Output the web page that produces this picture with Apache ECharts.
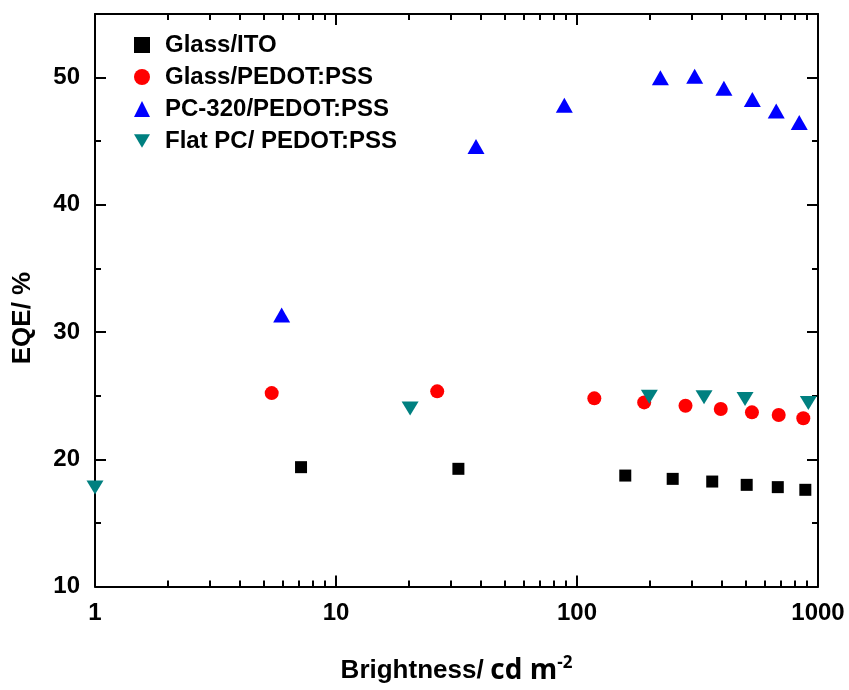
<!DOCTYPE html>
<html>
<head>
<meta charset="utf-8">
<script src="https://cdn.jsdelivr.net/npm/echarts@6/dist/echarts.min.js"></script>
<style>html,body{margin:0;padding:0;background:#fff}#c{width:849px;height:690px}</style>
</head>
<body>
<div id="c"></div>
<script>
// ---- data ----
const seriesNames = ['Glass/ITO', 'Glass/PEDOT:PSS', 'PC-320/PEDOT:PSS', 'Flat PC/ PEDOT:PSS'];
const glassITO = [[7.16,19.38],[32.2,19.25],[158.6,18.72],[249.5,18.46],[364,18.25],[506,17.99],[681,17.81],[886,17.6]];
const glassPEDOT = [[5.41,25.2],[26.3,25.34],[118,24.79],[190,24.47],[282,24.21],[395,23.95],[532,23.69],[687,23.48],[869,23.22]];
const pc320PEDOT = [[5.95,31.34],[38.1,44.59],[88.6,47.83],[221.8,49.99],[307.8,50.1],[407,49.16],[534,48.27],[671,47.38],[836,46.47]];
const flatPCPEDOT = [[1.0,17.78],[20.3,24.0],[199.6,24.91],[336.6,24.87],[498,24.73],[912,24.42]];
const xMajorTicks = [1,10,100,1000];
const xMinorTicks = [2,3,4,5,6,7,8,9,20,30,40,50,60,70,80,90,200,300,400,500,600,700,800,900];
const yMajorTicks = [10,20,30,40,50];
const yMinorTicks = [15,25,35,45];
const xTitle = 'Brightness/';
const xUnit = 'cd m';
const xUnitSup = '-2';
const yTitle = 'EQE/ %';

const FONT = '"Liberation Sans", Arial, sans-serif';
const lineStyle = {color:'#000', width:2};

function xAxisDef(pos, values, len, showLabel, showLine){
  return {
    type:'log', logBase:10, min:1, max:1000, position:pos,
    axisLine:{show:showLine, onZero:false, lineStyle},
    axisTick:{show:true, inside:true, length:len, customValues:values, lineStyle:{color:'#000', width:2}},
    axisLabel:{show:showLabel, customValues:xMajorTicks, margin:15, color:'#000', fontSize:24, fontWeight:'bold', fontFamily:FONT,
      formatter:v=>String(Math.round(v))},
    splitLine:{show:false}, minorTick:{show:false}, minorSplitLine:{show:false}
  };
}
function yAxisDef(pos, values, len, showLabel, showLine){
  return {
    type:'value', min:10, max:55, interval:10, position:pos,
    axisLine:{show:showLine, onZero:false, lineStyle},
    axisTick:{show:true, inside:true, length:len, customValues:values, lineStyle:{color:'#000', width:2}},
    axisLabel:{show:showLabel, customValues:yMajorTicks, margin:15, color:'#000', fontSize:24, fontWeight:'bold', fontFamily:FONT},
    splitLine:{show:false}
  };
}

const xAxes = [
  xAxisDef('bottom', xMajorTicks, 11, true, true),
  xAxisDef('bottom', xMinorTicks, 6, false, false),
  xAxisDef('top', xMajorTicks, 11, false, true),
  xAxisDef('top', xMinorTicks, 6, false, false)
];
xAxes[0].name = '{b|' + xTitle + '}  {n|' + xUnit + '}{s|' + xUnitSup + '}';
xAxes[0].nameLocation = 'middle';
xAxes[0].nameGap = 68;
xAxes[0].nameTextStyle = {
  rich:{
    b:{fontSize:26, fontWeight:'bold', fontFamily:FONT, color:'#000', lineHeight:30},
    n:{fontSize:28, fontWeight:'bold', fontFamily:'"Open Sans", "Noto Sans", sans-serif', color:'#000', lineHeight:30},
    s:{fontSize:17, fontWeight:'bold', fontFamily:'"Open Sans", "Noto Sans", sans-serif', color:'#000', padding:[0,0,16,0]}
  }
};

const yAxes = [
  yAxisDef('left', yMajorTicks, 11, true, true),
  yAxisDef('left', yMinorTicks, 6, false, false),
  yAxisDef('right', yMajorTicks, 11, false, true),
  yAxisDef('right', yMinorTicks, 6, false, false)
];

const downTri = 'path://M0,0 L20,0 L10,17 Z';

const option = {
  animation:false,
  backgroundColor:'#fff',
  grid:{left:95, right:31, top:14, bottom:102, containLabel:false},
  xAxis:xAxes,
  yAxis:yAxes,
  legend:{
    orient:'vertical', left:129, top:28, itemWidth:16, itemHeight:16, itemGap:8,
    textStyle:{fontSize:24, fontWeight:'bold', fontFamily:FONT, color:'#000', lineHeight:24, padding:[0,0,0,10]},
    data:seriesNames
  },
  graphic:[{
    type:'text', x:23, y:318, rotation:Math.PI/2,
    style:{text:yTitle, font:'bold 26px ' + FONT, fill:'#000', textAlign:'center', textVerticalAlign:'middle'}
  }],
  series:[
    {name:seriesNames[0], type:'scatter', data:glassITO, symbol:'rect', symbolSize:12, itemStyle:{color:'#000000', opacity:1}},
    {name:seriesNames[1], type:'scatter', data:glassPEDOT, symbol:'circle', symbolSize:14, itemStyle:{color:'#ff0000', opacity:1}},
    {name:seriesNames[2], type:'scatter', data:pc320PEDOT, symbol:'triangle', symbolSize:[17,15], itemStyle:{color:'#0000ff', opacity:1}},
    {name:seriesNames[3], type:'scatter', data:flatPCPEDOT, symbol:downTri, symbolSize:[17,14], itemStyle:{color:'#008080', opacity:1}, clip:false}
  ]
};
const chart = echarts.init(document.getElementById('c'), null, {renderer:'canvas'});
chart.setOption(option);
</script>
</body>
</html>
